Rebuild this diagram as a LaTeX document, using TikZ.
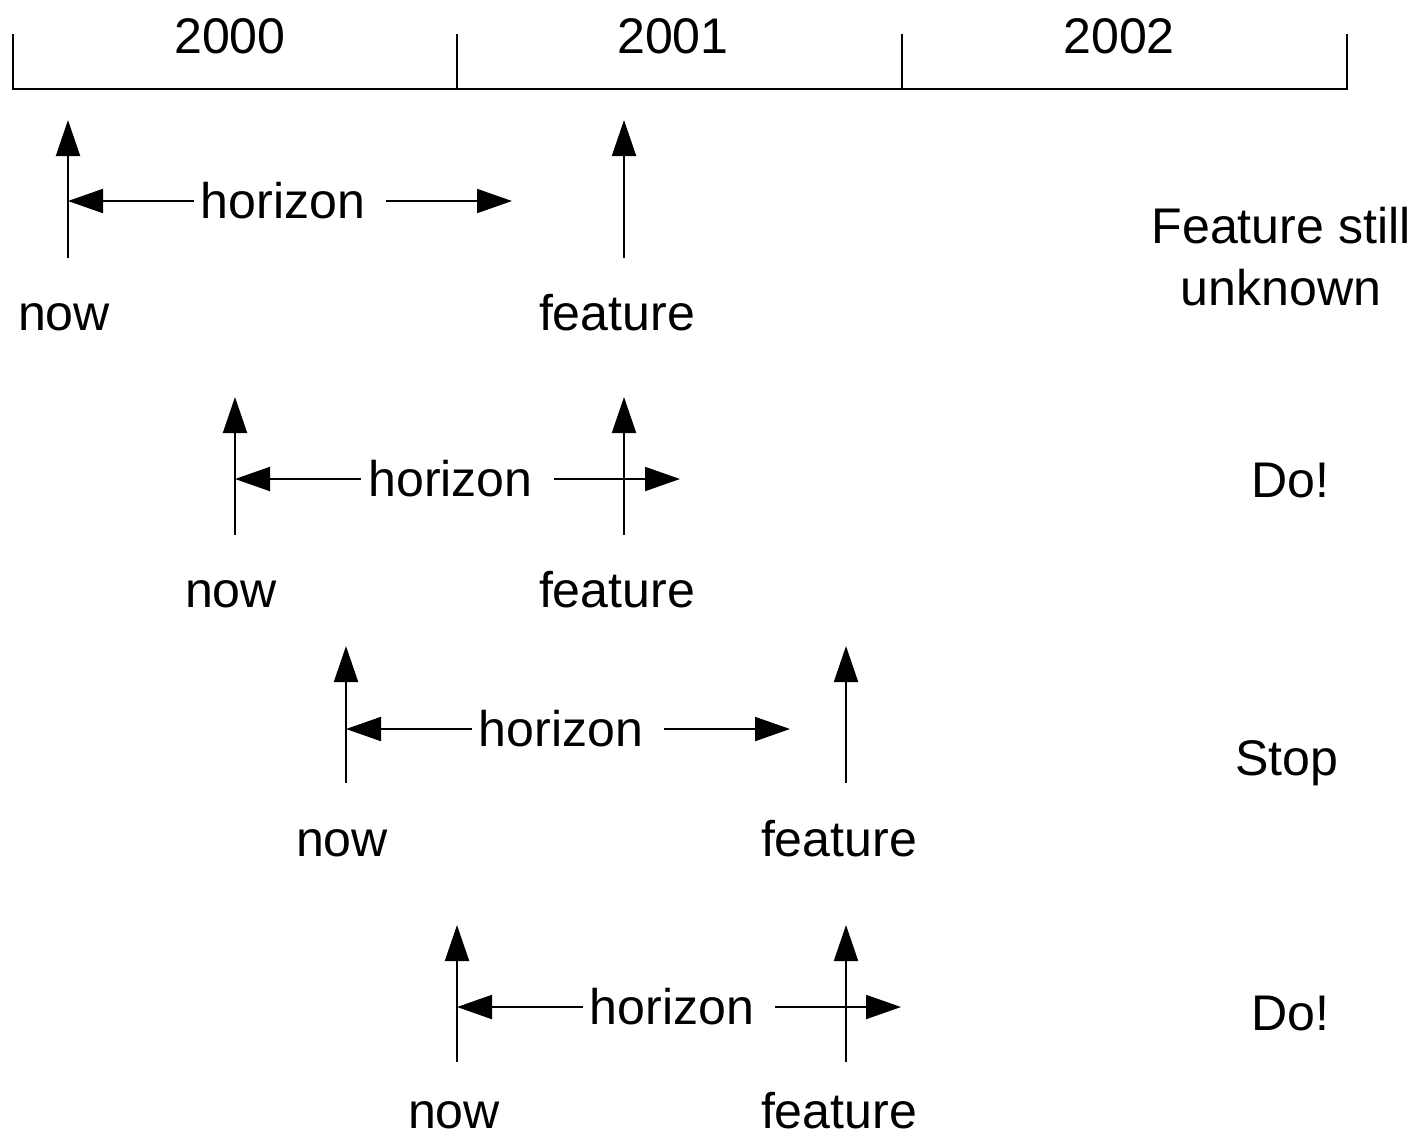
\documentclass[tikz,border=0pt]{standalone}
\usepackage{fontspec}
\setmainfont{Liberation Sans}
\usetikzlibrary{arrows.meta}

\begin{document}
\begin{tikzpicture}[
                x=0.2mm, y=-0.2mm,
                every node/.style={
                        font=\fontsize{28.5}{35}\selectfont,
                        inner sep=0pt
                    },
                axis/.style={line width=0.4mm},
                pointer/.style={line width=0.4mm, -{Triangle[length=7.2mm,width=4.8mm]}},
                span/.style={line width=0.4mm, {Triangle[length=7mm,width=4.8mm]}-{Triangle[length=7mm,width=4.8mm]}},
                lbl/.style={anchor=base},
                gap/.style={fill=white, inner xsep=1.4mm, inner ysep=0.5mm}
            ]

            \useasboundingbox (0,0) rectangle (1418,1138);

            % Linha do tempo com os anos
            \coordinate (t0) at (13,89);
            \coordinate (t1) at (457,89);
            \coordinate (t2) at (902,89);
            \coordinate (t3) at (1347,89);
            \draw[axis] (t0) ++(0,-55) -- (t0) -- (t3) -- ++(0,-55);
            \draw[axis] (t1) -- ++(0,-55);
            \draw[axis] (t2) -- ++(0,-55);
            \node[lbl] (y2000) at (230,53) {2000};
            \node[lbl] (y2001) at (673,53) {2001};
            \node[lbl] (y2002) at (1119,53) {2002};

            % Caso 1
            \coordinate (now1) at (68,258);
            \coordinate (feat1) at (624,258);
            \coordinate (hor1a) at (68,201);
            \coordinate (hor1b) at (512,201);
            \draw[pointer] (now1) -- ++(0,-138);
            \draw[pointer] (feat1) -- ++(0,-138);
            \draw[span] (hor1a) -- node[gap] {horizon\hspace*{2.8mm}} (hor1b);
            \node[lbl] (nowlbl1) at (64,330) {now};
            \node[lbl] (featlbl1) at (617,330) {feature};
            \node[lbl, align=center] (note1) at (1281,305) {Feature still\\unknown};

            % Caso 2
            \coordinate (now2) at (235,535);
            \coordinate (feat2) at (624,535);
            \coordinate (hor2a) at (235,479);
            \coordinate (hor2b) at (680,479);
            \draw[pointer] (now2) -- ++(0,-138);
            \draw[pointer] (feat2) -- ++(0,-138);
            \draw[span] (hor2a) -- node[gap] {horizon\hspace*{2.8mm}} (hor2b);
            \node[lbl] (nowlbl2) at (231,607) {now};
            \node[lbl] (featlbl2) at (617,607) {feature};
            \node[lbl] (note2) at (1290,497) {Do!};

            % Caso 3
            \coordinate (now3) at (346,783);
            \coordinate (feat3) at (846,783);
            \coordinate (hor3a) at (346,729);
            \coordinate (hor3b) at (790,729);
            \draw[pointer] (now3) -- ++(0,-137);
            \draw[pointer] (feat3) -- ++(0,-137);
            \draw[span] (hor3a) -- node[gap] {horizon\hspace*{2.8mm}} (hor3b);
            \node[lbl] (nowlbl3) at (342,856) {now};
            \node[lbl] (featlbl3) at (839,856) {feature};
            \node[lbl] (note3) at (1287,775) {Stop};

            % Caso 4
            \coordinate (now4) at (457,1062);
            \coordinate (feat4) at (846,1062);
            \coordinate (hor4a) at (457,1007);
            \coordinate (hor4b) at (901,1007);
            \draw[pointer] (now4) -- ++(0,-137);
            \draw[pointer] (feat4) -- ++(0,-137);
            \draw[span] (hor4a) -- node[gap] {horizon\hspace*{2.8mm}} (hor4b);
            \node[lbl] (nowlbl4) at (454,1128) {now};
            \node[lbl] (featlbl4) at (839,1128) {feature};
            \node[lbl] (note4) at (1290,1030) {Do!};

        \end{tikzpicture}
\end{document}
